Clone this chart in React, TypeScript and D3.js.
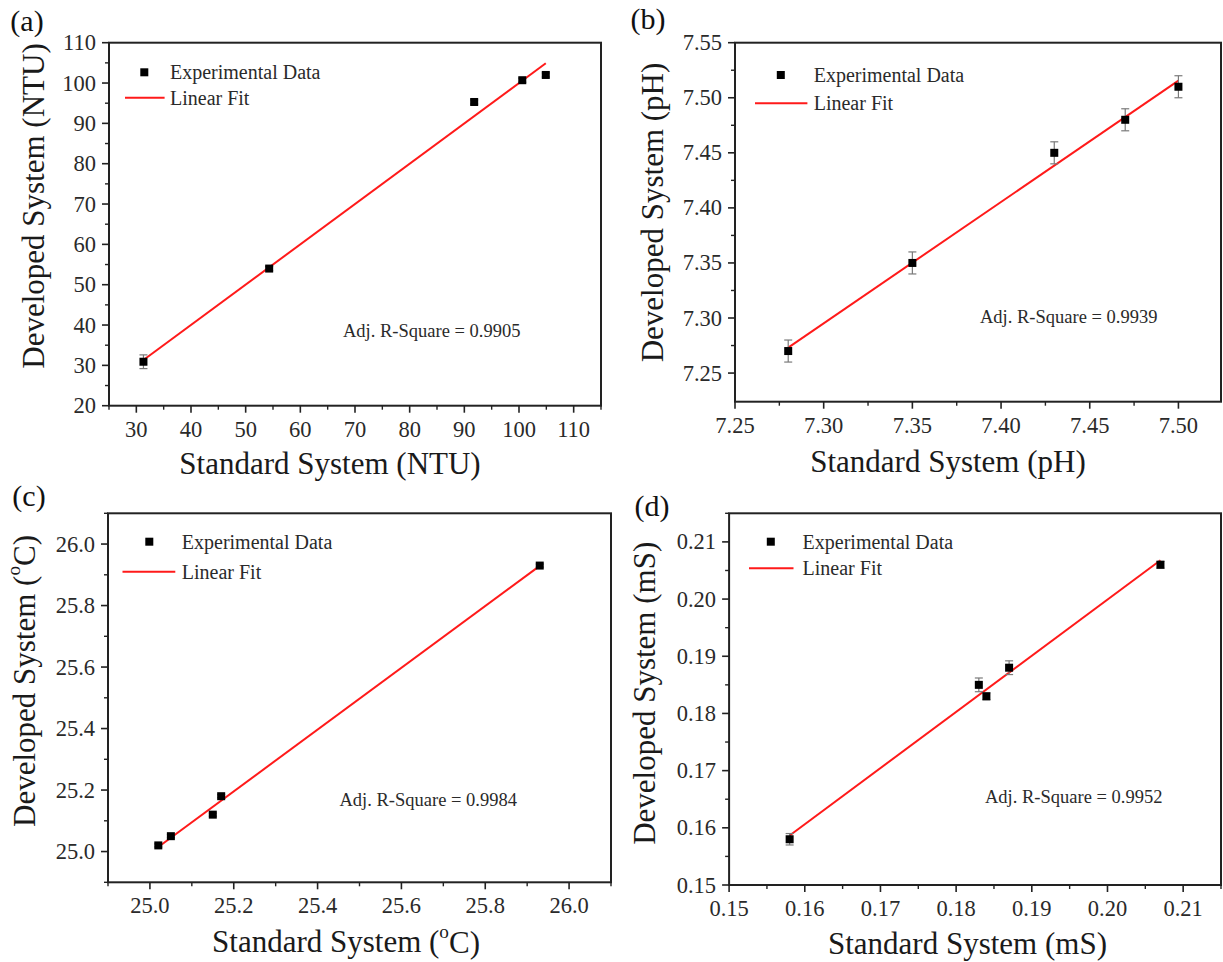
import React from "react";
import * as d3 from "d3";

// ---------------- DATA ----------------
// (a) Turbidity
const aStd = [31.3, 54.3, 91.8, 100.6, 104.9];
const aDev = [30.9, 54.0, 95.3, 100.7, 102.0];
const aErr = [1.7, 0.5, 0.5, 0.5, 0.5];
const aXTicks = [30, 40, 50, 60, 70, 80, 90, 100, 110];
const aYTicks = [20, 30, 40, 50, 60, 70, 80, 90, 100, 110];
const aXMinor = [25, 35, 45, 55, 65, 75, 85, 95, 105, 115];
const aYMinor = [25, 35, 45, 55, 65, 75, 85, 95, 105];
const aR2 = "Adj. R-Square = 0.9905";

// (b) pH
const bStd = [7.28, 7.35, 7.43, 7.47, 7.5];
const bDev = [7.27, 7.35, 7.45, 7.48, 7.51];
const bErr = [0.01, 0.01, 0.01, 0.01, 0.01];
const bXTicks = [7.25, 7.3, 7.35, 7.4, 7.45, 7.5];
const bYTicks = [7.25, 7.3, 7.35, 7.4, 7.45, 7.5, 7.55];
const bXMinor = [7.275, 7.325, 7.375, 7.425, 7.475];
const bYMinor = [7.275, 7.325, 7.375, 7.425, 7.475, 7.525];
const bR2 = "Adj. R-Square = 0.9939";

// (c) Temperature
const cStd = [25.02, 25.05, 25.15, 25.17, 25.93];
const cDev = [25.02, 25.05, 25.12, 25.18, 25.93];
const cErr = [0.005, 0.005, 0.005, 0.005, 0.005];
const cXTicks = [25.0, 25.2, 25.4, 25.6, 25.8, 26.0];
const cYTicks = [25.0, 25.2, 25.4, 25.6, 25.8, 26.0];
const cXMinor = [24.9, 25.1, 25.3, 25.5, 25.7, 25.9, 26.1];
const cYMinor = [24.9, 25.1, 25.3, 25.5, 25.7, 25.9, 26.1];
const cR2 = "Adj. R-Square = 0.9984";

// (d) Conductivity
const dStd = [0.158, 0.183, 0.184, 0.187, 0.207];
const dDev = [0.158, 0.185, 0.183, 0.188, 0.206];
const dErr = [0.001, 0.0012, 0.0006, 0.0012, 0.0006];
const dXTicks = [0.15, 0.16, 0.17, 0.18, 0.19, 0.2, 0.21];
const dYTicks = [0.15, 0.16, 0.17, 0.18, 0.19, 0.2, 0.21];
const dXMinor = [0.155, 0.165, 0.175, 0.185, 0.195, 0.205, 0.215];
const dYMinor = [0.155, 0.165, 0.175, 0.185, 0.195, 0.205, 0.215];
const dR2 = "Adj. R-Square = 0.9952";

const legendPoint = "Experimental Data";
const legendLine = "Linear Fit";

// ---------------- STYLE ----------------
const FONT = "Liberation Serif, Times New Roman, serif";
const AXIS_COLOR = "#222";
const TEXT_COLOR = "#2a2a2a";
const FIT_COLOR = "#ff1a1a";

type PanelCfg = {
  letter: string;
  xs: number[];
  ys: number[];
  errs: number[];
  xTicks: number[];
  yTicks: number[];
  xMinor: number[];
  yMinor: number[];
  xDomain: [number, number];
  yDomain: [number, number];
  fmt: string;
  r2: string;
  unit: string;
  box: { l: number; t: number; r: number; b: number };
  letterPos: [number, number];
  xTitlePos: [number, number];
  yTitlePos: [number, number];
  legend: { mx: number; my: number; tx: number; ly: number; lx0: number; lx1: number };
  r2Pos: [number, number];
};

const panels: PanelCfg[] = [
  {
    letter: "(a)", xs: aStd, ys: aDev, errs: aErr, xTicks: aXTicks, yTicks: aYTicks,
    xMinor: aXMinor, yMinor: aYMinor, xDomain: [25, 115], yDomain: [20, 110], fmt: "d",
    r2: aR2, unit: "NTU",
    box: { l: 109, t: 42.7, r: 601, b: 405.7 },
    letterPos: [27, 20], xTitlePos: [330, 463], yTitlePos: [33, 206],
    legend: { mx: 144.3, my: 72.3, tx: 170, ly: 97.7, lx0: 125, lx1: 164.6 },
    r2Pos: [343, 330.7],
  },
  {
    letter: "(b)", xs: bStd, ys: bDev, errs: bErr, xTicks: bXTicks, yTicks: bYTicks,
    xMinor: bXMinor, yMinor: bYMinor, xDomain: [7.25, 7.524], yDomain: [7.224, 7.55], fmt: ".2f",
    r2: bR2, unit: "pH",
    box: { l: 735, t: 42.7, r: 1221, b: 401.7 },
    letterPos: [648, 18], xTitlePos: [948, 461.7], yTitlePos: [652, 212.5],
    legend: { mx: 780.8, my: 75, tx: 813.7, ly: 103.3, lx0: 755, lx1: 807.4 },
    r2Pos: [980, 316.7],
  },
  {
    letter: "(c)", xs: cStd, ys: cDev, errs: cErr, xTicks: cXTicks, yTicks: cYTicks,
    xMinor: cXMinor, yMinor: cYMinor, xDomain: [24.9, 26.1], yDomain: [24.9, 26.1], fmt: ".1f",
    r2: cR2, unit: "oC",
    box: { l: 108, t: 513.3, r: 611, b: 882.3 },
    letterPos: [29, 495], xTitlePos: [346, 941.7], yTitlePos: [24, 681],
    legend: { mx: 149.3, my: 541.7, tx: 181.8, ly: 571.7, lx0: 122.5, lx1: 175.3 },
    r2Pos: [339.5, 800],
  },
  {
    letter: "(d)", xs: dStd, ys: dDev, errs: dErr, xTicks: dXTicks, yTicks: dYTicks,
    xMinor: dXMinor, yMinor: dYMinor, xDomain: [0.15, 0.215], yDomain: [0.15, 0.215], fmt: ".2f",
    r2: dR2, unit: "mS",
    box: { l: 729.1, t: 513.3, r: 1221, b: 885 },
    letterPos: [652, 505], xTitlePos: [967.5, 943.3], yTitlePos: [644, 693.3],
    legend: { mx: 770.8, my: 541.7, tx: 802.6, ly: 568.3, lx0: 749, lx1: 793.5 },
    r2Pos: [985, 796.7],
  },
];

function linearFit(xs: number[], ys: number[]) {
  const mx = d3.mean(xs)!;
  const my = d3.mean(ys)!;
  let sxy = 0;
  let sxx = 0;
  xs.forEach((x, i) => {
    sxy += (x - mx) * (ys[i] - my);
    sxx += (x - mx) * (x - mx);
  });
  const slope = sxy / sxx;
  return { slope, intercept: my - slope * mx };
}

function UnitText({ prefix, unit }: { prefix: string; unit: string }) {
  if (unit === "oC") {
    return (
      <>
        {prefix + " ("}
        <tspan baselineShift="super" fontSize="0.62em">o</tspan>
        <tspan>C)</tspan>
      </>
    );
  }
  return <>{`${prefix} (${unit})`}</>;
}

const T = (props: any) => <text fontFamily={FONT} style={{ fontFamily: FONT }} {...props} />;

function Panel({ cfg }: { cfg: PanelCfg }) {
  const { box } = cfg;
  const x = d3.scaleLinear().domain(cfg.xDomain).range([box.l, box.r]);
  const y = d3.scaleLinear().domain(cfg.yDomain).range([box.b, box.t]);
  const f = d3.format(cfg.fmt);
  const fit = linearFit(cfg.xs, cfg.ys);
  const x0 = d3.min(cfg.xs)!;
  const x1 = d3.max(cfg.xs)!;
  const fitLine = d3.line<number>()
    .x((v) => x(v))
    .y((v) => y(fit.slope * v + fit.intercept))([x0, x1]);
  const inX = (v: number) => v >= cfg.xDomain[0] - 1e-9 && v <= cfg.xDomain[1] + 1e-9;
  const inY = (v: number) => v >= cfg.yDomain[0] - 1e-9 && v <= cfg.yDomain[1] + 1e-9;
  const MAJ = 7;
  const MIN = 4;
  const ms = 8;
  const cap = 4;

  return (
    <g>
      <T x={cfg.letterPos[0]} y={cfg.letterPos[1]} fontSize={30} textAnchor="middle"
        dominantBaseline="central" fill="#111">{cfg.letter}</T>

      <path d={fitLine!} stroke={FIT_COLOR} strokeWidth={2} fill="none" />

      {cfg.xs.map((xv, i) => {
        const cx = x(xv);
        const yt = y(cfg.ys[i] + cfg.errs[i]);
        const yb = y(cfg.ys[i] - cfg.errs[i]);
        return (
          <g key={"e" + i} stroke="#7a7a7a" strokeWidth={1.2}>
            <line x1={cx} x2={cx} y1={yt} y2={yb} />
            <line x1={cx - cap} x2={cx + cap} y1={yt} y2={yt} />
            <line x1={cx - cap} x2={cx + cap} y1={yb} y2={yb} />
          </g>
        );
      })}

      {cfg.xs.map((xv, i) => (
        <rect key={"m" + i} x={x(xv) - ms / 2} y={y(cfg.ys[i]) - ms / 2} width={ms} height={ms} fill="#000" />
      ))}

      <rect x={box.l} y={box.t} width={box.r - box.l} height={box.b - box.t} fill="none"
        stroke={AXIS_COLOR} strokeWidth={2} />

      {cfg.xTicks.filter(inX).map((v) => (
        <g key={"xt" + v}>
          <line x1={x(v)} x2={x(v)} y1={box.b} y2={box.b + MAJ} stroke={AXIS_COLOR} strokeWidth={1.6} />
          <T x={x(v)} y={box.b + 23.5} fontSize={22.5} textAnchor="middle" dominantBaseline="central"
            fill={TEXT_COLOR}>{f(v)}</T>
        </g>
      ))}
      {cfg.xMinor.filter(inX).map((v) => (
        <line key={"xm" + v} x1={x(v)} x2={x(v)} y1={box.b} y2={box.b + MIN} stroke={AXIS_COLOR} strokeWidth={1.4} />
      ))}

      {cfg.yTicks.filter(inY).map((v) => (
        <g key={"yt" + v}>
          <line x1={box.l - MAJ} x2={box.l} y1={y(v)} y2={y(v)} stroke={AXIS_COLOR} strokeWidth={1.6} />
          <T x={box.l - 13} y={y(v)} fontSize={22.5} textAnchor="end" dominantBaseline="central"
            fill={TEXT_COLOR}>{f(v)}</T>
        </g>
      ))}
      {cfg.yMinor.filter(inY).map((v) => (
        <line key={"ym" + v} x1={box.l - MIN} x2={box.l} y1={y(v)} y2={y(v)} stroke={AXIS_COLOR} strokeWidth={1.4} />
      ))}

      <T x={cfg.xTitlePos[0]} y={cfg.xTitlePos[1]} fontSize={31} textAnchor="middle"
        dominantBaseline="central" fill="#1a1a1a">
        <UnitText prefix="Standard System" unit={cfg.unit} />
      </T>
      <T transform={`translate(${cfg.yTitlePos[0]},${cfg.yTitlePos[1]}) rotate(-90)`} fontSize={31}
        textAnchor="middle" dominantBaseline="central" fill="#1a1a1a">
        <UnitText prefix="Developed System" unit={cfg.unit} />
      </T>

      <rect x={cfg.legend.mx - ms / 2} y={cfg.legend.my - ms / 2} width={ms} height={ms} fill="#000" />
      <T x={cfg.legend.tx} y={cfg.legend.my} fontSize={20} dominantBaseline="central" fill={TEXT_COLOR}>
        {legendPoint}
      </T>
      <line x1={cfg.legend.lx0} x2={cfg.legend.lx1} y1={cfg.legend.ly} y2={cfg.legend.ly}
        stroke={FIT_COLOR} strokeWidth={2} />
      <T x={cfg.legend.tx} y={cfg.legend.ly} fontSize={20} dominantBaseline="central" fill={TEXT_COLOR}>
        {legendLine}
      </T>

      <T x={cfg.r2Pos[0]} y={cfg.r2Pos[1]} fontSize={18.5} dominantBaseline="central" fill={TEXT_COLOR}>
        {cfg.r2}
      </T>
    </g>
  );
}

export default function App() {
  return (
    <svg width={1223} height={962} viewBox="0 0 1223 962"
      style={{ position: "absolute", left: 0, top: 0, background: "#fff" }}>
      <rect x={0} y={0} width={1223} height={962} fill="#fff" />
      {panels.map((p) => (
        <Panel key={p.letter} cfg={p} />
      ))}
    </svg>
  );
}
